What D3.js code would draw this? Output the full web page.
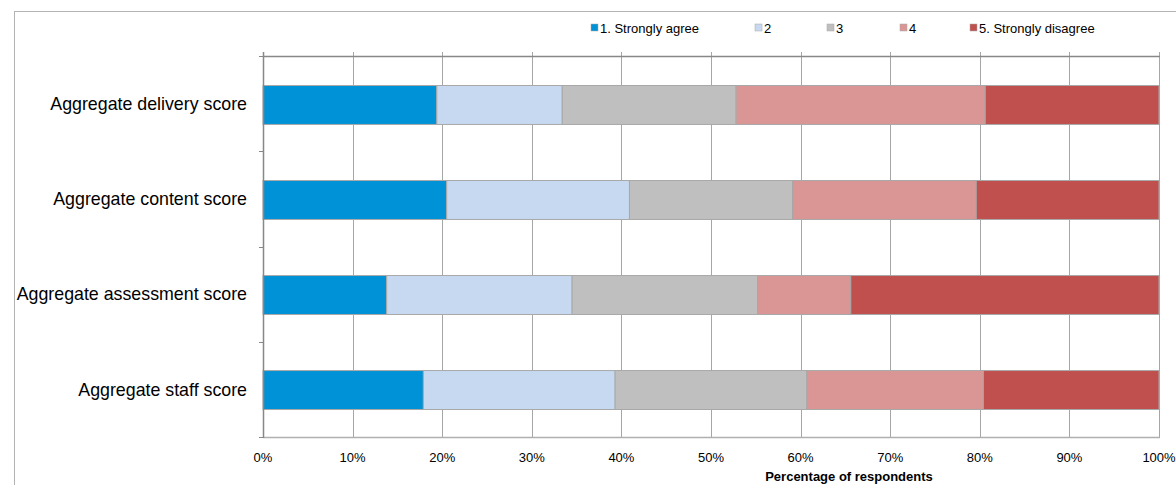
<!DOCTYPE html>
<html>
<head>
<meta charset="utf-8">
<script src="https://cdn.jsdelivr.net/npm/d3@7"></script>
<style>
  html, body { margin: 0; padding: 0; background: #fff; }
  svg { display: block; font-family: "Liberation Sans", Arial, sans-serif; }
</style>
</head>
<body>
<svg id="chart" width="1176" height="485"></svg>
<script>
const categories = ["Aggregate delivery score", "Aggregate content score", "Aggregate assessment score", "Aggregate staff score"];
const seriesNames = ["1. Strongly agree", "2", "3", "4", "5. Strongly disagree"];
const seriesColors = ["#0092d6", "#c6d9f0", "#bfbfbf", "#d99694", "#c0504d"];
const agree1 = [19.4, 20.5, 13.8, 17.9];
const agree2 = [14.0, 20.4, 20.7, 21.4];
const agree3 = [19.4, 18.2, 20.7, 21.4];
const agree4 = [27.8, 20.5, 10.4, 19.7];
const agree5 = [19.4, 20.4, 34.4, 19.6];
const xTicks = [0, 10, 20, 30, 40, 50, 60, 70, 80, 90, 100];
const xTickLabels = ["0%", "10%", "20%", "30%", "40%", "50%", "60%", "70%", "80%", "90%", "100%"];
const xTitle = "Percentage of respondents";

const seriesValues = [agree1, agree2, agree3, agree4, agree5];
const rows = categories.map((c, i) => {
  const r = { cat: c };
  seriesNames.forEach((s, j) => r[s] = seriesValues[j][i]);
  return r;
});
const stacked = d3.stack().keys(seriesNames)(rows);

const svg = d3.select("#chart");
const L = 263, R = 1159, T = 56, B = 437;

// outer border
svg.append("rect").attr("x", 14.5).attr("y", 11.5).attr("width", 1200).attr("height", 500)
  .attr("fill", "none").attr("stroke", "#b3b3b3").attr("stroke-width", 1);

const x = d3.scaleLinear().domain([0, 100]).range([L, R]);
const y = d3.scaleBand().domain(categories).range([T + 1, B + 1]).paddingInner(0.59).paddingOuter(0.3);
const yb = d3.scaleBand().domain(categories).range([T, B]);

// gridlines
svg.append("g").selectAll("line").data(xTicks).join("line")
  .attr("x1", d => Math.round(x(d)) + 0.5).attr("x2", d => Math.round(x(d)) + 0.5)
  .attr("y1", T - 4).attr("y2", B + 1)
  .attr("stroke", d => (d === 0 ? "none" : "#a6a6a6")).attr("stroke-width", 1);

// top border of plot
svg.append("line").attr("x1", L).attr("x2", R + 1).attr("y1", T + 0.5).attr("y2", T + 0.5)
  .attr("stroke", "#888").attr("stroke-width", 1.5);
// bottom axis line
svg.append("line").attr("x1", L).attr("x2", R + 1).attr("y1", B + 0.5).attr("y2", B + 0.5)
  .attr("stroke", "#b0b0b0").attr("stroke-width", 1.5);

// bars
svg.append("g").selectAll("g").data(stacked).join("g")
  .attr("fill", (d, i) => seriesColors[i])
  .selectAll("rect").data(d => d).join("rect")
  .attr("x", d => x(d[0])).attr("width", d => x(d[1]) - x(d[0]))
  .attr("y", d => y(d.data.cat)).attr("height", y.bandwidth())
  .attr("stroke", "#a8a8a8").attr("stroke-width", 1);

// left axis
svg.append("line").attr("x1", L + 0.5).attr("x2", L + 0.5).attr("y1", T - 4).attr("y2", B + 1)
  .attr("stroke", "#888").attr("stroke-width", 1.5);
const yTickPos = categories.map(c => yb(c)).concat([B]);
svg.append("g").selectAll("line").data(yTickPos).join("line")
  .attr("x1", L - 4).attr("x2", L).attr("y1", d => Math.round(d) + 0.5).attr("y2", d => Math.round(d) + 0.5)
  .attr("stroke", "#888").attr("stroke-width", 1);

// category labels
svg.append("g").selectAll("text").data(categories).join("text")
  .attr("x", 247).attr("y", d => yb(d) + yb.bandwidth() / 2)
  .attr("dy", "0.35em").attr("text-anchor", "end")
  .attr("font-size", "17.8px").attr("fill", "#000").text(d => d);

// x tick labels
svg.append("g").selectAll("text").data(xTicks).join("text")
  .attr("x", d => x(d)).attr("y", 462).attr("text-anchor", "middle")
  .attr("font-size", "13px").attr("fill", "#000").text((d, i) => xTickLabels[i]);

// x title
svg.append("text").attr("x", 849).attr("y", 481).attr("text-anchor", "middle")
  .attr("font-size", "13px").attr("font-weight", "bold").attr("fill", "#000").text(xTitle);

// legend
const legendX = [591, 755, 827, 900, 970];
const lg = svg.append("g").selectAll("g").data(seriesNames).join("g")
  .attr("transform", (d, i) => `translate(${legendX[i]},24)`);
lg.append("rect").attr("width", 7).attr("height", 7).attr("y", 0)
  .attr("fill", (d, i) => seriesColors[i]).attr("stroke", "#a8a8a8").attr("stroke-width", 0.5);
lg.append("text").attr("x", 9).attr("y", 4).attr("dy", "0.35em")
  .attr("font-size", "13px").attr("fill", "#000").text(d => d);
</script>
</body>
</html>
